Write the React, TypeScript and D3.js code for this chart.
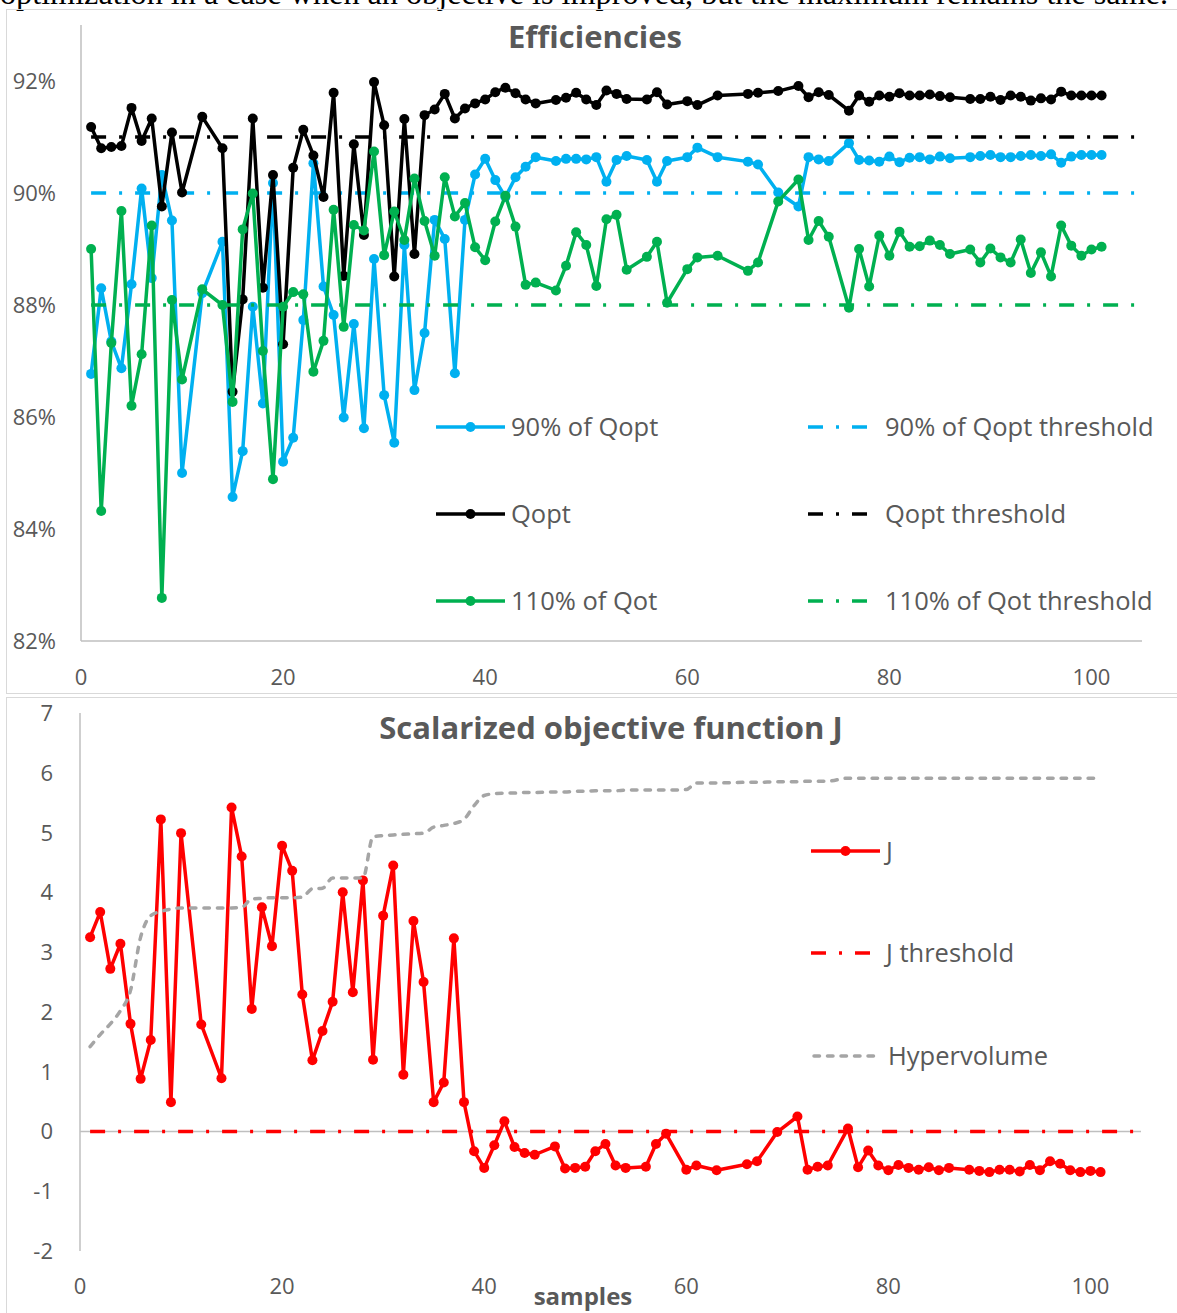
import React from 'react';
import * as d3 from 'd3';

// sample numbers (missing samples are skipped, lines join across them)
const samples = [
  1, 2, 3, 4, 5, 6, 7, 8, 9, 10, 12, 14, 15, 16, 17, 18, 19, 20, 21, 22, 23, 24, 25, 26, 27, 28, 29, 30,
  31, 32, 33, 34, 35, 36, 37, 38, 39, 40, 41, 42, 43, 44, 45, 47, 48, 49, 50, 51, 52, 53, 54, 56, 57, 58,
  60, 61, 63, 66, 67, 69, 71, 72, 73, 74, 76, 77, 78, 79, 80, 81, 82, 83, 84, 85, 86, 88, 89, 90, 91, 92,
  93, 94, 95, 96, 97, 98, 99, 100, 101,
];

// efficiencies, %
const eff90 = [
  86.77, 88.3, 87.35, 86.87, 88.37, 90.08, 88.48, 90.32, 89.51, 85.0, 88.21, 89.13, 84.57, 85.39, 87.97,
  86.24, 90.18, 85.2, 85.63, 87.73, 90.53, 88.33, 87.82, 85.99, 87.66, 85.8, 88.82, 86.39, 85.54, 89.07,
  86.48, 87.5, 89.52, 89.18, 86.78, 89.52, 90.33, 90.61, 90.23, 89.93, 90.28, 90.47, 90.64, 90.57, 90.61,
  90.61, 90.6, 90.64, 90.2, 90.59, 90.66, 90.59, 90.2, 90.57, 90.64, 90.81, 90.64, 90.56, 90.51, 90.01,
  89.76, 90.64, 90.6, 90.57, 90.89, 90.59, 90.58, 90.56, 90.65, 90.55, 90.63, 90.64, 90.6, 90.65, 90.62,
  90.64, 90.66, 90.68, 90.64, 90.64, 90.66, 90.68, 90.66, 90.69, 90.54, 90.65, 90.68, 90.68, 90.68,
];
const effOpt = [
  91.18, 90.8, 90.82, 90.84, 91.52, 90.93, 91.33, 89.76, 91.08, 90.01, 91.36, 90.8, 86.45, 88.1, 91.33,
  88.31, 90.32, 87.3, 90.45, 91.13, 90.67, 89.93, 91.79, 88.52, 90.87, 89.25, 91.98, 91.21, 88.51, 91.32,
  88.91, 91.39, 91.49, 91.77, 91.33, 91.51, 91.6, 91.67, 91.8, 91.88, 91.78, 91.67, 91.6, 91.66, 91.7,
  91.79, 91.67, 91.57, 91.83, 91.77, 91.68, 91.67, 91.8, 91.58, 91.64, 91.57, 91.74, 91.77, 91.79, 91.82,
  91.91, 91.71, 91.8, 91.75, 91.47, 91.74, 91.63, 91.74, 91.72, 91.78, 91.74, 91.74, 91.76, 91.73, 91.71,
  91.68, 91.68, 91.72, 91.66, 91.74, 91.72, 91.65, 91.69, 91.67, 91.81, 91.74, 91.74, 91.74, 91.74,
];
const eff110 = [
  89.0, 84.32, 87.32, 89.68, 86.2, 87.12, 89.42, 82.77, 88.09, 86.67, 88.28, 88.0, 86.27, 89.35, 89.99,
  87.18, 84.89, 87.97, 88.23, 88.19, 86.81, 87.36, 89.7, 87.61, 89.43, 89.33, 90.74, 88.89, 89.67, 89.16,
  90.26, 89.5, 88.88, 90.28, 89.58, 89.82, 89.03, 88.8, 89.49, 89.95, 89.4, 88.36, 88.4, 88.26, 88.7,
  89.3, 89.07, 88.34, 89.53, 89.61, 88.63, 88.86, 89.13, 88.04, 88.64, 88.85, 88.88, 88.61, 88.76, 89.85,
  90.24, 89.16, 89.5, 89.22, 87.95, 89.0, 88.33, 89.24, 88.88, 89.31, 89.04, 89.05, 89.15, 89.07, 88.91,
  88.99, 88.76, 89.01, 88.85, 88.76, 89.17, 88.57, 88.94, 88.51, 89.42, 89.06, 88.88, 88.99, 89.04,
];

// scalarized objective J and hypervolume
const jValues = [
  3.25, 3.67, 2.72, 3.14, 1.8, 0.88, 1.53, 5.22, 0.49, 4.99, 1.79, 0.89, 5.42, 4.6, 2.05, 3.75, 3.1, 4.78,
  4.36, 2.29, 1.19, 1.68, 2.17, 4.0, 2.33, 4.2, 1.2, 3.61, 4.45, 0.95, 3.52, 2.5, 0.49, 0.82, 3.23, 0.49,
  -0.33, -0.61, -0.23, 0.17, -0.26, -0.36, -0.39, -0.25, -0.62, -0.61, -0.59, -0.33, -0.21, -0.57, -0.61,
  -0.59, -0.21, -0.04, -0.64, -0.57, -0.65, -0.55, -0.5, -0.01, 0.25, -0.64, -0.59, -0.57, 0.05, -0.6,
  -0.32, -0.57, -0.65, -0.56, -0.61, -0.64, -0.6, -0.65, -0.61, -0.64, -0.66, -0.68, -0.64, -0.64, -0.67,
  -0.56, -0.65, -0.5, -0.54, -0.65, -0.68, -0.66, -0.68,
];
const hypervolume = [
  1.42, 1.62, 1.8, 2.02, 2.36, 3.25, 3.61, 3.68, 3.72, 3.74, 3.74, 3.74, 3.74, 3.75, 3.89, 3.9, 3.91, 3.91,
  3.91, 3.92, 4.06, 4.07, 4.24, 4.24, 4.24, 4.24, 4.93, 4.95, 4.96, 4.97, 4.98, 4.99, 5.09, 5.12, 5.15, 5.22,
  5.45, 5.62, 5.65, 5.66, 5.66, 5.67, 5.67, 5.68, 5.68, 5.69, 5.69, 5.7, 5.7, 5.7, 5.71, 5.71, 5.71, 5.71,
  5.72, 5.83, 5.83, 5.84, 5.84, 5.85, 5.85, 5.86, 5.86, 5.86, 5.91, 5.91, 5.91, 5.91, 5.91, 5.91, 5.91,
  5.91, 5.91, 5.91, 5.91, 5.91, 5.91, 5.91, 5.91, 5.91, 5.91, 5.91, 5.91, 5.91, 5.91, 5.91, 5.91, 5.91, 5.91,
];

// thresholds
const thresholdSpan = [1, 105];
const thr90 = 90;
const thrOpt = 91;
const thr110 = 88;
const thrJ = 0;

const xTicks = [0, 20, 40, 60, 80, 100];
const effTicks = [82, 84, 86, 88, 90, 92];
const jTicks = [-2, -1, 0, 1, 2, 3, 4, 5, 6, 7];

const BLUE = '#00B0F0';
const GREEN = '#00B050';
const BLACK = '#000000';
const RED = '#FF0000';
const GREY = '#A5A5A5';
const TEXT = '#595959';
const AXIS = '#BFBFBF';
const FONT = '"Open Sans", "Noto Sans", sans-serif';
const DASHDOT = '15 13 3 13';
const HV_DASH = '5.5 8';
const LW = 3.5;
const MR = 5;

const Marks = ({ xs, ys, x, y, color, markers = true, dash, curve, cap }) => {
  const pts = xs.map((d, i) => [x(d), y(ys[i])]);
  const line = d3.line().curve(curve || d3.curveLinear);
  return (
    <g>
      <path d={line(pts)} fill="none" stroke={color} strokeWidth={LW} strokeDasharray={dash}
        strokeLinecap={cap || 'butt'} strokeLinejoin="round" />
      {markers && pts.map((p, i) => <circle key={i} cx={p[0]} cy={p[1]} r={MR} fill={color} />)}
    </g>
  );
};

const LegendItem = ({ x0, x1, yy, color, label, marker, dash, tx, cap }) => (
  <g>
    <line x1={x0} x2={x1} y1={yy} y2={yy} stroke={color} strokeWidth={LW} strokeDasharray={dash}
      strokeLinecap={cap || 'butt'} />
    {marker && <circle cx={(x0 + x1) / 2} cy={yy} r={MR} fill={color} />}
    <text x={tx} y={yy + 9} fontSize={25.5} fill={TEXT} fontFamily={FONT}>{label}</text>
  </g>
);

const App = () => {
  // top chart
  const x1 = d3.scaleLinear().domain([0, 105]).range([81, 1142]);
  const y1 = d3.scaleLinear().domain([82, 93]).range([641, 25]);
  // bottom chart
  const x2 = d3.scaleLinear().domain([0, 105]).range([80, 1141]);
  const y2 = d3.scaleLinear().domain([-2, 7]).range([1251, 713]);

  return (
    <svg width={1177} height={1313} style={{ position: 'absolute', left: 0, top: 0, background: '#fff' }}>
      <text x={0} y={4} fontSize={31} textLength={1168} lengthAdjust="spacingAndGlyphs"
        fontFamily='"Liberation Serif", serif' fill="#000">
        optimization in a case when an objective is improved, but the maximum remains the same.
      </text>

      {/* chart frames */}
      <rect x={6.5} y={9.5} width={1180} height={684} fill="none" stroke="#D9D9D9" />
      <rect x={6.5} y={697.5} width={1180} height={630} fill="none" stroke="#D9D9D9" />

      {/* ===== Efficiencies ===== */}
      <text x={595} y={48} textAnchor="middle" fontSize={31} fontWeight="bold" fill={TEXT} fontFamily={FONT}>
        Efficiencies
      </text>
      <line x1={x1(0)} x2={x1(0)} y1={y1(93)} y2={y1(82)} stroke={AXIS} strokeWidth={1.5} />
      <line x1={x1(0)} x2={x1(105)} y1={y1(82)} y2={y1(82)} stroke={AXIS} strokeWidth={1.5} />
      {effTicks.map((t) => (
        <text key={t} x={56} y={y1(t) + 8} textAnchor="end" fontSize={22} fill={TEXT} fontFamily={FONT}>
          {t}%
        </text>
      ))}
      {xTicks.map((t) => (
        <text key={t} x={x1(t)} y={685} textAnchor="middle" fontSize={22} fill={TEXT} fontFamily={FONT}>
          {t}
        </text>
      ))}

      <Marks xs={samples} ys={eff90} x={x1} y={y1} color={BLUE} />
      <Marks xs={thresholdSpan} ys={[thr90, thr90]} x={x1} y={y1} color={BLUE} markers={false} dash={DASHDOT} />
      <Marks xs={samples} ys={effOpt} x={x1} y={y1} color={BLACK} />
      <Marks xs={thresholdSpan} ys={[thrOpt, thrOpt]} x={x1} y={y1} color={BLACK} markers={false} dash={DASHDOT} />
      <Marks xs={samples} ys={eff110} x={x1} y={y1} color={GREEN} />
      <Marks xs={thresholdSpan} ys={[thr110, thr110]} x={x1} y={y1} color={GREEN} markers={false} dash={DASHDOT} />

      <LegendItem x0={436} x1={505} yy={427} color={BLUE} marker label="90% of Qopt" tx={511} />
      <LegendItem x0={808} x1={870} yy={427} color={BLUE} dash={DASHDOT} label="90% of Qopt threshold" tx={885} />
      <LegendItem x0={436} x1={505} yy={514} color={BLACK} marker label="Qopt" tx={511} />
      <LegendItem x0={808} x1={870} yy={514} color={BLACK} dash={DASHDOT} label="Qopt threshold" tx={885} />
      <LegendItem x0={436} x1={505} yy={601} color={GREEN} marker label="110% of Qot" tx={511} />
      <LegendItem x0={808} x1={870} yy={601} color={GREEN} dash={DASHDOT} label="110% of Qot threshold" tx={885} />

      {/* ===== Scalarized objective function J ===== */}
      <text x={611} y={739} textAnchor="middle" fontSize={31} fontWeight="bold" fill={TEXT} fontFamily={FONT}>
        Scalarized objective function J
      </text>
      <line x1={x2(0)} x2={x2(0)} y1={y2(7)} y2={y2(-2)} stroke={AXIS} strokeWidth={1.5} />
      <line x1={x2(0)} x2={x2(105)} y1={y2(0)} y2={y2(0)} stroke={AXIS} strokeWidth={1.5} />
      {jTicks.map((t) => (
        <text key={t} x={53} y={y2(t) + 8} textAnchor="end" fontSize={22} fill={TEXT} fontFamily={FONT}>
          {t}
        </text>
      ))}
      {xTicks.map((t) => (
        <text key={t} x={x2(t)} y={1294} textAnchor="middle" fontSize={22} fill={TEXT} fontFamily={FONT}>
          {t}
        </text>
      ))}
      <text x={583} y={1305} textAnchor="middle" fontSize={24} fontWeight="bold" fill={TEXT} fontFamily={FONT}>
        samples
      </text>

      <Marks xs={samples} ys={jValues} x={x2} y={y2} color={RED} />
      <Marks xs={thresholdSpan} ys={[thrJ, thrJ]} x={x2} y={y2} color={RED} markers={false} dash={DASHDOT} />
      <Marks xs={samples} ys={hypervolume} x={x2} y={y2} color={GREY} markers={false} dash={HV_DASH}
        cap="round" curve={d3.curveMonotoneX} />

      <LegendItem x0={811} x1={880} yy={851} color={RED} marker label="J" tx={886} />
      <LegendItem x0={811} x1={880} yy={953} color={RED} dash={DASHDOT} label="J threshold" tx={886} />
      <LegendItem x0={814} x1={880} yy={1056} color={GREY} dash={HV_DASH} cap="round" label="Hypervolume" tx={888} />
    </svg>
  );
};

export default App;
